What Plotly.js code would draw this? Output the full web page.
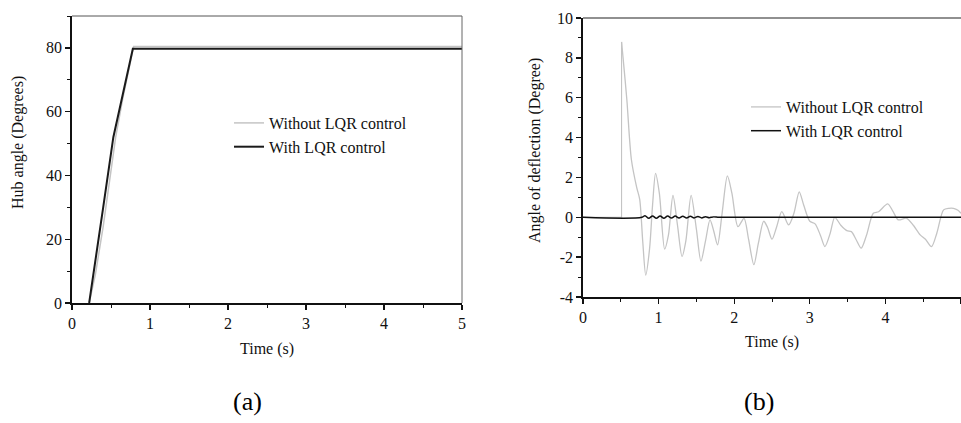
<!DOCTYPE html>
<html>
<head>
<meta charset="utf-8">
<script src="https://cdn.plot.ly/plotly-3.0.1.min.js"></script>
<style>html,body{margin:0;padding:0;background:#fff;}#chart{width:961px;height:423px;}</style>
</head>
<body>
<div id="chart"></div>
<script>
// (a) Hub angle
var hubTimeWithout = [0.22, 0.30, 0.40, 0.50, 0.56, 0.65, 0.72, 0.79, 1.0, 5.0];
var hubAngleWithout = [0, 9, 24, 42, 52, 64, 72, 80.4, 80.4, 80.4];
var hubTimeWith = [0.22, 0.30, 0.40, 0.53, 0.62, 0.70, 0.78, 1.0, 5.0];
var hubAngleWith = [0, 13, 30, 52, 62, 71, 79.7, 79.7, 79.7];

// (b) Angle of deflection
var spikeTime = [0, 0.51, 0.51];
var spikeAngle = [0, 0, 8.8];
var defTimeWithout = [0.51, 0.53, 0.58, 0.64, 0.71, 0.75, 0.79, 0.83, 0.88, 0.92, 0.96, 1.01, 1.08, 1.13, 1.19, 1.25, 1.31, 1.36, 1.43, 1.50, 1.56, 1.62, 1.68, 1.73, 1.78, 1.84, 1.91, 1.97, 2.05, 2.13, 2.19, 2.26, 2.32, 2.39, 2.44, 2.50, 2.56, 2.63, 2.72, 2.79, 2.86, 2.92, 3.00, 3.07, 3.14, 3.20, 3.27, 3.33, 3.41, 3.49, 3.55, 3.61, 3.68, 3.75, 3.84, 3.91, 4.03, 4.10, 4.17, 4.28, 4.37, 4.46, 4.53, 4.61, 4.68, 4.77, 4.84, 4.90, 4.96, 5.0];
var defAngleWithout = [8.8, 8.0, 5.9, 2.9, 1.5, 0.9, -1.2, -2.9, -1.6, 0.6, 2.2, 1.2, -1.6, -0.9, 1.1, -0.4, -1.97, -1.2, 1.1, -0.6, -2.2, -1.2, -0.13, -0.7, -1.38, 0.2, 2.08, 1.2, -0.47, -0.05, -1.1, -2.38, -1.3, -0.2, -0.5, -1.1, -0.5, 0.28, -0.38, 0.2, 1.28, 0.6, -0.2, -0.33, -0.9, -1.47, -0.8, 0, -0.4, -0.67, -0.72, -1.1, -1.55, -0.9, 0.2, 0.28, 0.67, 0.3, -0.13, -0.05, -0.4, -0.88, -1.1, -1.47, -0.8, 0.37, 0.45, 0.45, 0.35, 0.2];
var defTimeWith = [0, 0.78, 0.82, 0.87, 0.92, 0.97, 1.02, 1.07, 1.12, 1.17, 1.22, 1.27, 1.32, 1.37, 1.42, 1.47, 1.52, 1.57, 1.62, 1.67, 1.72, 1.80, 2.0, 5.0];
var defAngleWith = [0, 0, 0.08, -0.05, 0.07, -0.05, 0.07, -0.05, 0.06, -0.04, 0.06, -0.04, 0.05, -0.04, 0.05, -0.03, 0.04, -0.03, 0.03, -0.02, 0.02, 0, 0, 0];

var xTicks = [0, 1, 2, 3, 4, 5];
var hubTicks = [0, 20, 40, 60, 80];
var defTicks = [-4, -2, 0, 2, 4, 6, 8, 10];

var labelWithout = 'Without LQR control';
var labelWith = 'With LQR control';

var FONT = 'Liberation Serif';
var grey = '#c4c4c4';

var traces = [
  {x: hubTimeWithout, y: hubAngleWithout, xaxis: 'x', yaxis: 'y', mode: 'lines', name: labelWithout,
   line: {color: grey, width: 1.5}, legend: 'legend'},
  {x: hubTimeWith, y: hubAngleWith, xaxis: 'x', yaxis: 'y', mode: 'lines', name: labelWith,
   line: {color: '#1a1a1a', width: 2}, legend: 'legend'},
  {x: spikeTime, y: spikeAngle, xaxis: 'x2', yaxis: 'y2', mode: 'lines', showlegend: false,
   line: {color: grey, width: 1.1}},
  {x: defTimeWithout, y: defAngleWithout, xaxis: 'x2', yaxis: 'y2', mode: 'lines', name: labelWithout,
   line: {color: grey, width: 1.3, shape: 'spline', smoothing: 0.8}, legend: 'legend2'},
  {x: defTimeWith, y: defAngleWith, xaxis: 'x2', yaxis: 'y2', mode: 'lines', name: labelWith,
   line: {color: '#111', width: 1.5, shape: 'spline'}, legend: 'legend2'}
];

function xAxis(domain, anchor) {
  return {
    domain: domain, anchor: anchor, range: [0, 5], tickvals: xTicks, ticktext: xTicks.map(String),
    ticks: 'outside', ticklen: 5, tickwidth: 1.3, tickcolor: '#111',
    minor: {dtick: 0.5, ticks: 'outside', ticklen: 3, tickwidth: 1, tickcolor: '#111'},
    showline: true, linecolor: '#111', linewidth: 1.6, showgrid: false, zeroline: false,
    tickfont: {family: FONT, size: 16, color: '#111'}, fixedrange: true
  };
}
function yAxis(domain, anchor, range, ticks, minorStep) {
  return {
    domain: domain, anchor: anchor, range: range, tickvals: ticks, ticktext: ticks.map(String),
    ticks: 'outside', ticklen: 5, tickwidth: 1.3, tickcolor: '#111',
    minor: {dtick: minorStep, ticks: 'outside', ticklen: 3, tickwidth: 1, tickcolor: '#111'},
    showline: true, linecolor: '#111', linewidth: 1.8, showgrid: false, zeroline: false,
    tickfont: {family: FONT, size: 16, color: '#111'}, fixedrange: true
  };
}

var layout = {
  width: 961, height: 423,
  margin: {l: 0, r: 0, t: 0, b: 0},
  paper_bgcolor: '#fff', plot_bgcolor: 'rgba(0,0,0,0)',
  xaxis: xAxis([72/961, 462/961], 'y'),
  yaxis: yAxis([1 - 303/423, 1 - 16/423], 'x', [0, 90], hubTicks, 10),
  xaxis2: xAxis([583/961, 1], 'y2'),
  yaxis2: yAxis([1 - 297/423, 1 - 18/423], 'x2', [-4, 10], defTicks, 1),
  legend: {x: 229/961, y: 1 - 106/423, xanchor: 'left', yanchor: 'top', bgcolor: 'rgba(0,0,0,0)',
           font: {family: FONT, size: 16, color: '#111'}, tracegroupgap: 0, itemwidth: 30},
  legend2: {x: 746/961, y: 1 - 90/423, xanchor: 'left', yanchor: 'top', bgcolor: 'rgba(0,0,0,0)',
            font: {family: FONT, size: 16, color: '#111'}, tracegroupgap: 0, itemwidth: 30},
  shapes: [
    {type: 'line', xref: 'x domain', yref: 'y domain', x0: 0, x1: 1, y0: 1, y1: 1, line: {color: '#555', width: 1}},
    {type: 'line', xref: 'x domain', yref: 'y domain', x0: 1, x1: 1, y0: 0, y1: 1, line: {color: '#666', width: 1}},
    {type: 'line', xref: 'x2 domain', yref: 'y2 domain', x0: 0, x1: 1, y0: 1, y1: 1, line: {color: '#222', width: 1.2}}
  ],
  annotations: [
    {text: 'Hub angle (Degrees)', xref: 'paper', yref: 'paper', x: 18/961, y: 1 - 143/423, textangle: -90,
     showarrow: false, xanchor: 'center', yanchor: 'middle', font: {family: FONT, size: 16, color: '#111'}},
    {text: 'Time (s)', xref: 'paper', yref: 'paper', x: 267/961, y: 1 - 349/423,
     showarrow: false, xanchor: 'center', yanchor: 'middle', font: {family: FONT, size: 16, color: '#111'}},
    {text: 'Angle of deflection (Degree)', xref: 'paper', yref: 'paper', x: 535/961, y: 1 - 151/423, textangle: -90,
     showarrow: false, xanchor: 'center', yanchor: 'middle', font: {family: FONT, size: 16, color: '#111'}},
    {text: 'Time (s)', xref: 'paper', yref: 'paper', x: 772/961, y: 1 - 342/423,
     showarrow: false, xanchor: 'center', yanchor: 'middle', font: {family: FONT, size: 16, color: '#111'}},
    {text: '(a)', xref: 'paper', yref: 'paper', x: 247/961, y: 1 - 401/423,
     showarrow: false, xanchor: 'center', yanchor: 'middle', font: {family: FONT, size: 26, color: '#000'}},
    {text: '(b)', xref: 'paper', yref: 'paper', x: 759/961, y: 1 - 401/423,
     showarrow: false, xanchor: 'center', yanchor: 'middle', font: {family: FONT, size: 26, color: '#000'}}
  ]
};

Plotly.newPlot('chart', traces, layout, {displayModeBar: false, staticPlot: true});
</script>
</body>
</html>
